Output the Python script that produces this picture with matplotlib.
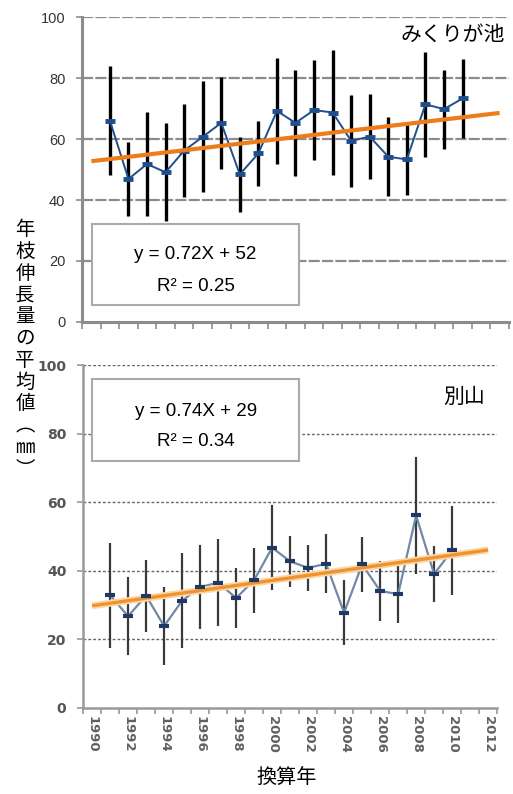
import numpy as np
import matplotlib.pyplot as plt
from matplotlib.patches import Rectangle

plt.rcParams['font.family'] = ['Liberation Sans', 'Noto Sans CJK JP', 'DejaVu Sans']

# 年ごとの平均値と標準偏差
years = np.arange(1991, 2011)
category_years = np.arange(1990, 2013)

top_mean = [66.0, 46.9, 51.8, 49.1, 56.2, 60.7, 65.3, 48.4, 55.3, 69.2,
            65.3, 69.5, 68.7, 59.4, 60.8, 54.2, 53.3, 71.4, 69.8, 73.3]
top_sd = [17.8, 12.2, 17.2, 16.1, 15.3, 18.2, 15.2, 12.2, 10.6, 17.4,
          17.3, 16.4, 20.4, 15.2, 14.0, 12.9, 11.6, 17.3, 13.0, 12.8]

bot_mean = [32.8, 26.7, 32.7, 23.8, 31.2, 35.2, 36.5, 32.0, 37.2, 46.7,
            42.7, 40.8, 42.0, 27.7, 41.8, 34.1, 33.1, 56.1, 39.0, 45.9]
bot_sd = [15.3, 11.3, 10.5, 11.3, 13.9, 12.2, 12.7, 8.7, 9.5, 12.4,
          7.4, 6.7, 8.6, 9.5, 8.1, 8.7, 8.5, 17.0, 8.1, 13.1]

# 近似直線 y = aX + b (X = 1 が 1990)
top_fit = (0.72, 52)
bot_fit = (0.74, 29)
top_eq = ['y = 0.72X + 52', 'R² = 0.25']
bot_eq = ['y = 0.74X + 29', 'R² = 0.34']

fig = plt.figure(figsize=(5.13, 7.94), dpi=100)
ax1 = fig.add_axes([0.160, 0.5945, 0.832, 0.384])
ax2 = fig.add_axes([0.162, 0.1087, 0.807, 0.4316])

jp = ['Noto Sans CJK JP', 'DejaVu Sans']


def setup(ax, grid_color, grid_ls, grid_lw, spine_color, spine_lw, tick_len):
    ax.set_xlim(1989.5, 2012.5)
    ax.set_ylim(0, 100)
    ax.set_yticks(np.arange(0, 101, 20))
    ax.set_xticks(np.arange(1989.5, 2013.5, 1), minor=True)
    for s in ['top', 'right']:
        ax.spines[s].set_visible(False)
    for s in ['left', 'bottom']:
        ax.spines[s].set_color(spine_color)
        ax.spines[s].set_linewidth(spine_lw)
    for y in range(20, 101, 20):
        ax.axhline(y, color=grid_color, ls=grid_ls, lw=grid_lw, zorder=0)
    ax.tick_params(axis='x', which='minor', length=tick_len, width=1.2,
                   color=spine_color, direction='out')
    ax.tick_params(axis='y', length=4, width=1.2, color=spine_color, pad=8)


# 上段：みくりが池
setup(ax1, '#8c8c8c', (0, (5, 1)), 1.6, '#8c8c8c', 2.2, 5)
ax1.set_xticks([])
ax1.set_xticks(np.arange(1989.5, 2013.5, 1), minor=True)
ax1.tick_params(axis='y', labelsize=10.5, labelcolor='#333333')

ax1.errorbar(years, top_mean, yerr=top_sd, fmt='none', ecolor='black',
             elinewidth=2.4, capsize=0, zorder=2)
ax1.plot(years, top_mean, color='#1f4e8c', lw=1.4, marker='_', ms=7, mew=3.5,
         mec='#1f4e8c', zorder=3)
xt = np.array([category_years[0], category_years[-1]])
ax1.plot(xt, top_fit[0] * (xt - 1989) + top_fit[1], color='#ed7d1a', lw=3,
         zorder=4, solid_capstyle='butt')

ax1.add_patch(Rectangle((0.023, 0.056), 0.485, 0.265, transform=ax1.transAxes,
                        facecolor='white', edgecolor='#aaaaaa', lw=1.5, zorder=5))
ax1.text(0.266, 0.22, top_eq[0], transform=ax1.transAxes, ha='center',
         va='center', fontsize=13.5, zorder=6)
ax1.text(0.266, 0.115, top_eq[1], transform=ax1.transAxes, ha='center',
         va='center', fontsize=13.5, zorder=6)
ax1.text(0.99, 0.941, 'みくりが池', transform=ax1.transAxes, ha='right',
         va='center', fontsize=15, family=jp, zorder=6)

# 下段：別山
setup(ax2, '#666666', (0, (2, 1.5)), 1.0, '#999999', 1.8, 4)
ax2.set_xticks(category_years[::2])
ax2.set_xticklabels([str(y) for y in category_years[::2]], rotation=-90)
ax2.tick_params(axis='x', which='major', length=0, pad=6, labelsize=9.5,
                labelcolor='#606060')
ax2.tick_params(axis='y', labelsize=10, labelcolor='#555555')
for lab in ax2.get_xticklabels() + ax2.get_yticklabels():
    lab.set_family('DejaVu Sans')
    lab.set_fontweight('bold')

ax2.errorbar(years, bot_mean, yerr=bot_sd, fmt='none', ecolor='#3a3a3a',
             elinewidth=1.6, capsize=0, zorder=2)
ax2.plot(years, bot_mean, color='#7088aa', lw=1.6, zorder=3)
ax2.plot(years, bot_mean, ls='none', marker='_', ms=7, mew=3, mec='#1f3864',
         zorder=5)
ax2.plot(xt, bot_fit[0] * (xt - 1989) + bot_fit[1], color='#fbd7a8', lw=5,
         zorder=3.5, solid_capstyle='butt')
ax2.plot(xt, bot_fit[0] * (xt - 1989) + bot_fit[1], color='#f0922e', lw=2.4,
         zorder=4, solid_capstyle='butt')

ax2.add_patch(Rectangle((0.022, 0.72), 0.50, 0.239, transform=ax2.transAxes,
                        facecolor='white', edgecolor='#aaaaaa', lw=1.5, zorder=5))
ax2.text(0.272, 0.863, bot_eq[0], transform=ax2.transAxes, ha='center',
         va='center', fontsize=13.5, zorder=6)
ax2.text(0.272, 0.778, bot_eq[1], transform=ax2.transAxes, ha='center',
         va='center', fontsize=13.5, zorder=6)
ax2.text(0.971, 0.907, '別山', transform=ax2.transAxes, ha='right',
         va='center', fontsize=15, family=jp, zorder=6)

# 軸ラベル
ylabel = '年枝伸長量の平均値︵㎜︶'
fig.text(0.049, 0.56, '\n'.join(ylabel), ha='center', va='center',
         fontsize=14, family=jp, linespacing=1.05)
fig.text(0.559, 0.02, '換算年', ha='center', va='center', fontsize=14.5,
         family=jp)

fig.savefig('out.png', dpi=100)
